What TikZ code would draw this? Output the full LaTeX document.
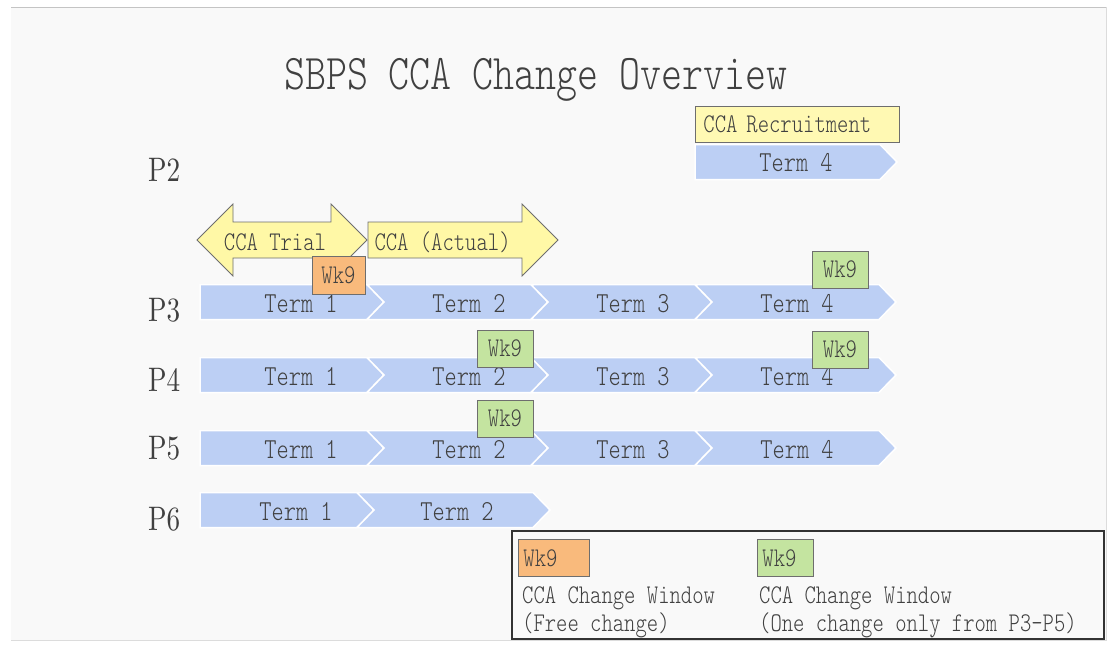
\documentclass[tikz,border=0pt]{standalone}
\usepackage{fontspec}
\usepackage{tikz}
\usetikzlibrary{positioning}
\newfontfamily\slidemono{lmmonolt10-regular.otf}[FakeStretch=0.8]
\newfontfamily\slideserif{lmroman10-regular.otf}[FakeStretch=0.8]
\definecolor{slidebg}{HTML}{F9F9F9}
\definecolor{slideline}{HTML}{C4C4C4}
\definecolor{termblue}{HTML}{BCCFF4}
\definecolor{ccayellow}{HTML}{FFF8A6}
\definecolor{wkorange}{HTML}{F9BA7C}
\definecolor{wkgreen}{HTML}{C4E4A0}
\definecolor{edgegray}{HTML}{6E6E6E}
\definecolor{textgray}{HTML}{404040}
\tikzset{
  termbar/.style={fill=termblue, draw=white, line width=1.5pt},
  termlabel/.style={font=\slidemono\fontsize{29}{32}\selectfont, text=textgray, inner sep=0pt},
  ccaarrow/.style={fill=ccayellow, draw=edgegray, line width=0.8pt},
  ccalabel/.style={font=\slidemono\fontsize{27}{30}\selectfont, text=textgray},
  wkbox/.style={draw=edgegray, line width=0.9pt, inner sep=0pt, minimum width=56pt,
    minimum height=37pt, font=\slidemono\fontsize{27}{28}\selectfont, text=textgray},
  yearlabel/.style={font=\slideserif\fontsize{34}{36}\selectfont, text=textgray,
    anchor=west, inner sep=0pt},
  legendtext/.style={font=\slidemono\fontsize{27}{28}\selectfont, text=textgray,
    align=left, anchor=west, inner sep=4pt}
}
% first bar of a row: flat left end
\newcommand{\headbar}[3]{%
  \filldraw[termbar] (#1,#3-17.5) -- (#2,#3-17.5) -- (#2+17,#3) -- (#2,#3+17.5)
    -- (#1,#3+17.5) -- cycle;}
% following bars: notched left end
\newcommand{\nextbar}[3]{%
  \filldraw[termbar] (#1,#3-17.5) -- (#2,#3-17.5) -- (#2+17,#3) -- (#2,#3+17.5)
    -- (#1,#3+17.5) -- (#1+17,#3) -- cycle;}
\begin{document}
\begin{tikzpicture}[x=1pt, y=-1pt]
\useasboundingbox (0,0) rectangle (1112,654);
\fill[white] (0,0) rectangle (1112,654);
\fill[slidebg] (11,7) rectangle (1106,640);
\draw[slideline, line width=1pt] (11,7) -- (1106,7);
\draw[slideline!60, line width=1pt] (1106,7) -- (1106,640) -- (11,640);

\node[font=\slidemono\fontsize{50}{56}\selectfont, text=textgray] (title) at (536,80)
  {SBPS CCA Change Overview};

% year levels
\foreach \lvl/\yc in {2/170, 3/310, 4/380, 5/448, 6/519}
  \node[yearlabel] (lvl\lvl) at (148,\yc) {P\lvl};

% P2
\headbar{695}{880}{162}
\node[termlabel] (p2t4) at (796,163) {Term 4};
\node[draw=edgegray, line width=0.9pt, fill=ccayellow!85!white, anchor=west,
  minimum height=36pt, inner xsep=8pt, text width=188pt, align=left,
  font=\slidemono\fontsize{27}{30}\selectfont, text=textgray] (recruit) at (695,124)
  {CCA Recruitment};

% P3 to P5
\foreach \row/\yc in {3/302, 4/375, 5/448} {
  \headbar{200}{367}{\yc}
  \nextbar{367}{531}{\yc}
  \nextbar{531}{695}{\yc}
  \nextbar{695}{879}{\yc}
  \foreach \i/\xm in {1/301, 2/469, 3/633, 4/797}
    \node[termlabel] (p\row t\i) at (\xm,\yc+1.5) {Term \i};
}

% P6
\headbar{200}{357}{510}
\nextbar{357}{533}{510}
\node[termlabel] (p6t1) at (296,511.5) {Term 1};
\node[termlabel] (p6t2) at (457,511.5) {Term 2};

% trial and actual arrows
\filldraw[ccaarrow] (197,240) -- (233,204) -- (233,222) -- (331,222) -- (331,204)
  -- (367,240) -- (331,276) -- (331,258) -- (233,258) -- (233,276) -- cycle;
\filldraw[ccaarrow] (368,222) -- (522,222) -- (522,204) -- (558,240) -- (522,276)
  -- (522,258) -- (368,258) -- cycle;
\node[ccalabel] (trial) at (275,242) {CCA Trial};
\node[ccalabel, anchor=west] (actual) at (371,242) {CCA (Actual)};

% change windows
\node[wkbox, fill=wkorange, minimum width=53pt, minimum height=38pt] (wk31) at (338.5,275) {Wk9};
\node[wkbox, fill=wkgreen] (wk34) at (840,269.5) {Wk9};
\node[wkbox, fill=wkgreen] (wk42) at (505,348.5) {Wk9};
\node[wkbox, fill=wkgreen] (wk44) at (840,349.5) {Wk9};
\node[wkbox, fill=wkgreen] (wk52) at (505,418.5) {Wk9};

% legend
\draw[fill=slidebg, draw=black!80, line width=1.5pt] (512,531) rectangle (1104,639);
\node[wkbox, fill=wkorange, anchor=north west, minimum width=71pt, text width=61pt,
  inner xsep=5pt, align=left] (keyfree) at (518,539) {Wk9};
\node[wkbox, fill=wkgreen, anchor=north west, minimum width=56pt, text width=46pt,
  inner xsep=5pt, align=left] (keyone) at (757,539) {Wk9};
\node[legendtext] (freetext) at (518,612) {CCA Change Window\\(Free change)};
\node[legendtext] (onetext) at (755,612) {CCA Change Window\\(One change only from P3-P5)};
\end{tikzpicture}
\end{document}
